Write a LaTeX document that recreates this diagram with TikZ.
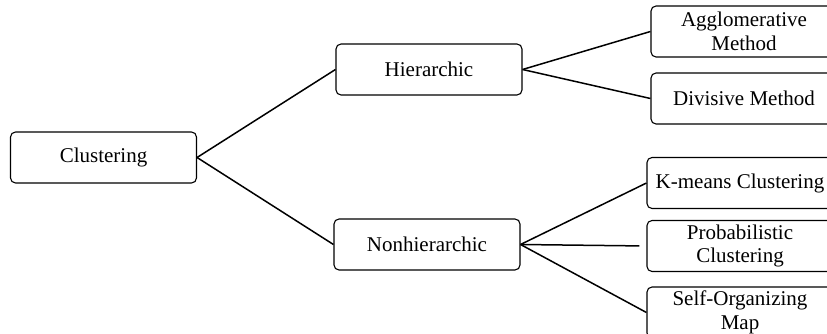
\documentclass[tikz,border=0pt]{standalone}
\usepackage{fontspec}
\setmainfont{Liberation Serif}
\usepackage{tikz}

\tikzset{
    box/.style={draw, rounded corners=5pt, line width=1.1pt, align=center,
        minimum width=186pt, minimum height=51pt, inner sep=0pt,
        font=\fontsize{21}{23.5}\selectfont},
    link/.style={line width=1.5pt}
}

\begin{document}
\begin{tikzpicture}[x=1pt, y=-1pt]
    \useasboundingbox (0,0) rectangle (827,334);
    \node[box]  (clus)  at (103.5,157.5) {Clustering};
    \node[box]  (hier)  at (429,69.5)    {Hierarchic};
    \node[box]  (nonh)  at (427,244.5)   {Nonhierarchic};
    \node[box]  (aggl)  at (744,31.5)    {Agglomerative\\Method};
    \node[box]  (divi)  at (744,98.5)    {Divisive Method};
    \node[box]  (kmea)  at (740,183)     {K-means Clustering};
    \node[box]  (prob)  at (740,246)     {Probabilistic\\Clustering};
    \node[box]  (som)   at (740,312.5)   {Self-Organizing\\Map};
    \path
        (clus.east)
            edge [link] (hier.west)
            edge [link] (nonh.west)
        (hier.east)
            edge [link] (aggl.west)
            edge [link] (divi.west)
        (nonh.east)
            edge [link] (kmea.west)
            edge [link, shorten >=7pt] (prob.west)
            edge [link] (som.west)
        ;
\end{tikzpicture}
\end{document}
